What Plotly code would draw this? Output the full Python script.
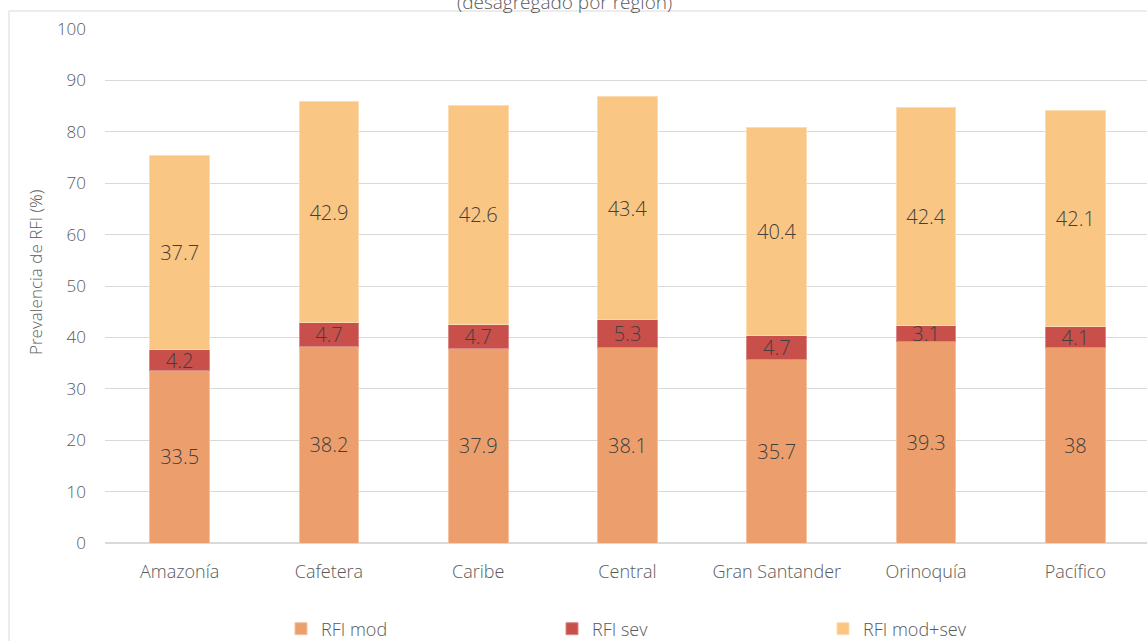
import plotly.graph_objects as go

regions = ["Amazonía", "Cafetera", "Caribe", "Central", "Gran Santander", "Orinoquía", "Pacífico"]
rfi_mod = [33.5, 38.2, 37.9, 38.1, 35.7, 39.3, 38]
rfi_sev = [4.2, 4.7, 4.7, 5.3, 4.7, 3.1, 4.1]
rfi_mod_sev = [37.7, 42.9, 42.6, 43.4, 40.4, 42.4, 42.1]
y_ticks = [0, 10, 20, 30, 40, 50, 60, 70, 80, 90, 100]

FONT = "Open Sans"
W = 300
GRAY = "#595959"
LABEL = "#404040"

# plot-area geometry in pixels, used to convert positions to paper units
L, T, B = 105, 29, 98
PW, PH = 1147 - L, 641 - T - B


def px_x(x):
    return (x - L) / PW


def px_y(y):
    return (641 - B - y) / PH


series = [
    ("RFI mod", rfi_mod, "#EC9F6D", "#F3C2A0"),
    ("RFI sev", rfi_sev, "#C94F4B", "#D98A86"),
    ("RFI mod+sev", rfi_mod_sev, "#FAC684", "#FCDDB3"),
]

fig = go.Figure()
for name, vals, color, edge in series:
    fig.add_trace(go.Bar(
        x=regions, y=vals, name=name,
        marker=dict(color=color, line=dict(width=1, color=edge)),
        text=[f"{v:g}" for v in vals],
        textposition="inside", insidetextanchor="middle",
        textfont=dict(family=FONT, size=20, color=LABEL, weight=W),
        hoverinfo="skip",
    ))

# outer chart frame
fig.add_shape(type="rect", xref="paper", yref="paper",
              x0=px_x(9), x1=px_x(1170), y0=px_y(660), y1=px_y(11),
              line=dict(color="#D9D9D9", width=1), fillcolor="rgba(0,0,0,0)",
              layer="below")

fig.add_annotation(text="(desagregado por región)", xref="paper", yref="paper",
                   x=px_x(564), y=px_y(2), showarrow=False, yanchor="middle",
                   font=dict(family=FONT, size=19, color=GRAY, weight=W))

# y-axis title placed as a rotated annotation
fig.add_annotation(text="Prevalencia de RFI (%)", xref="paper", yref="paper",
                   x=px_x(35), y=px_y(273), textangle=-90,
                   showarrow=False, xanchor="center", yanchor="middle",
                   font=dict(family=FONT, size=17, color=GRAY, weight=W))

fig.update_layout(
    width=1147, height=641,
    barmode="stack", bargap=0.6,
    plot_bgcolor="white", paper_bgcolor="white",
    margin=dict(l=L, r=0, t=T, b=B, autoexpand=False),
    uniformtext=dict(minsize=20, mode="show"),
    font=dict(family=FONT, color=GRAY, weight=W),
    showlegend=True,
    legend=dict(orientation="h", xref="paper", yref="paper",
                x=px_x(281), y=px_y(629), xanchor="left", yanchor="middle",
                entrywidth=226, entrywidthmode="pixels",
                font=dict(family=FONT, size=18, color=GRAY, weight=W),
                traceorder="normal"),
    xaxis=dict(range=[-0.5, 6.48], showgrid=False, ticks="", tickangle=0,
               tickfont=dict(family=FONT, size=18, color=GRAY, weight=W), ticklabelstandoff=16),
    yaxis=dict(range=[0, 100], tickvals=y_ticks, showgrid=True,
               gridcolor="#D9D9D9", gridwidth=1, zeroline=True, zerolinecolor="#D9D9D9",
               ticks="", tickfont=dict(family=FONT, size=17, color=GRAY, weight=W),
               ticklabelstandoff=18),
)

fig.write_html("out.html")
